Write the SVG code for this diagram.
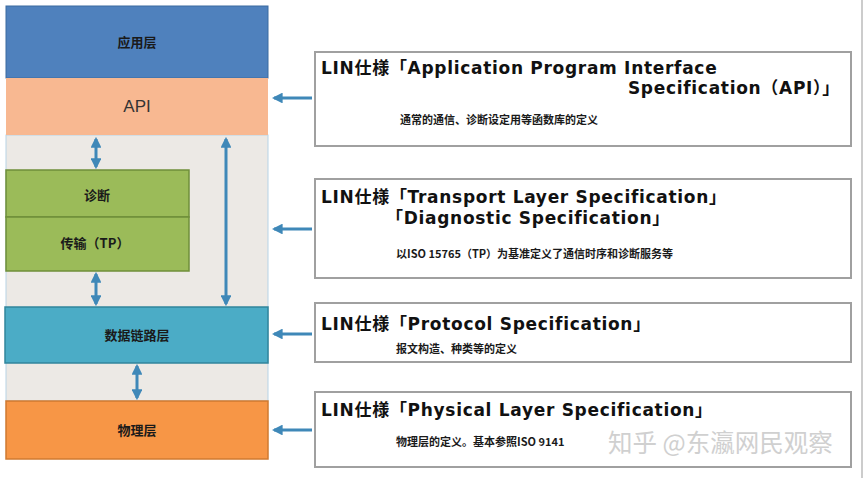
<svg xmlns="http://www.w3.org/2000/svg" width="866" height="478" viewBox="0 0 866 478">
<defs>
<style>
.cn{font-family:"Noto Sans CJK SC","Liberation Sans",sans-serif;font-weight:bold;fill:#1a1a1a}
.t{font-family:"DejaVu Sans","Noto Sans CJK SC",sans-serif;font-weight:bold;fill:#111;letter-spacing:0.7px}
.box{fill:#fff;stroke:#a0a0a0;stroke-width:2}
.c{stroke:#3f88b8;stroke-width:3;fill:none}
</style>
<marker id="ah" viewBox="0 0 10 10" refX="8" refY="5" markerWidth="3.6" markerHeight="3.6" orient="auto-start-reverse"><path d="M0,0 L10,5 L0,10 z" fill="#3f88b8"/></marker>
</defs>
<rect width="866" height="478" fill="#fff"/>
<line x1="862" y1="0" x2="862" y2="478" stroke="#bbb" stroke-width="1.5"/>
<g id="bg"><rect x="6" y="135" width="262" height="266" fill="#ece9e5" stroke="#b7d3e6" stroke-width="1"/></g>
<g id="app"><rect x="6" y="6" width="262" height="72" fill="#4f81bd" stroke="#3b6aa0"/><text x="137" y="47" class="cn" font-size="13" text-anchor="middle">应用层</text></g>
<g id="api"><rect x="6" y="78" width="262" height="57" fill="#f8b891"/><text x="137" y="112" font-family="Liberation Sans,sans-serif" font-size="17" text-anchor="middle" fill="#333">API</text></g>
<g id="diag"><rect x="6" y="170" width="183" height="47" fill="#9bbb59" stroke="#6f8f3a" stroke-width="1.5"/><text x="97" y="200" class="cn" font-size="13" text-anchor="middle">诊断</text></g>
<g id="tp"><rect x="6" y="217" width="183" height="54" fill="#9bbb59" stroke="#6f8f3a" stroke-width="1.5"/><text x="95" y="248" class="cn" font-size="13" text-anchor="middle">传输（TP）</text></g>
<g id="dll"><rect x="5" y="307" width="263" height="56" fill="#4bacc6" stroke="#31859c" stroke-width="1.5"/><text x="137" y="340" class="cn" font-size="13" text-anchor="middle">数据链路层</text></g>
<g id="phy"><rect x="6" y="401" width="262" height="58" fill="#f79646" stroke="#d07a30" stroke-width="1.5"/><text x="137" y="435" class="cn" font-size="13" text-anchor="middle">物理层</text></g>
<g id="connectors">
<line class="c" x1="96" y1="139" x2="96" y2="167" marker-start="url(#ah)" marker-end="url(#ah)"/>
<line class="c" x1="96" y1="274" x2="96" y2="304" marker-start="url(#ah)" marker-end="url(#ah)"/>
<line class="c" x1="226" y1="139" x2="226" y2="304" marker-start="url(#ah)" marker-end="url(#ah)"/>
<line class="c" x1="137" y1="366" x2="137" y2="398" marker-start="url(#ah)" marker-end="url(#ah)"/>
<line class="c" x1="312" y1="98" x2="274" y2="98" marker-end="url(#ah)"/>
<line class="c" x1="312" y1="229" x2="274" y2="229" marker-end="url(#ah)"/>
<line class="c" x1="312" y1="334" x2="274" y2="334" marker-end="url(#ah)"/>
<line class="c" x1="312" y1="430" x2="274" y2="430" marker-end="url(#ah)"/>
</g>
<g id="spec1"><rect class="box" x="315" y="52" width="536" height="94"/>
<text x="321" y="74" class="t" font-size="17">LIN仕様「Application Program Interface</text>
<text x="840" y="94" class="t" font-size="17" text-anchor="end">Specification（API）」</text>
<text x="400" y="124" class="cn" font-size="11">通常的通信、诊断设定用等函数库的定义</text></g>
<g id="spec2"><rect class="box" x="315" y="179" width="536" height="99"/>
<text x="321" y="203" class="t" font-size="17">LIN仕様「Transport Layer Specification」</text>
<text x="386" y="224" class="t" font-size="17">「Diagnostic Specification」</text>
<text x="396" y="258" class="cn" font-size="11">以ISO 15765（TP）为基准定义了通信时序和诊断服务等</text></g>
<g id="spec3"><rect class="box" x="315" y="303" width="536" height="59"/>
<text x="321" y="330" class="t" font-size="17">LIN仕様「Protocol Specification」</text>
<text x="396" y="353" class="cn" font-size="11">报文构造、种类等的定义</text></g>
<g id="spec4"><rect class="box" x="315" y="392" width="536" height="75"/>
<text x="321" y="416" class="t" font-size="17">LIN仕様「Physical Layer Specification」</text>
<text x="396" y="446" class="cn" font-size="11">物理层的定义。基本参照ISO 9141</text>
<text x="608" y="452" font-family="Noto Sans CJK SC,sans-serif" font-size="24.5" fill="#d0d0d0">知乎 @东瀛网民观察</text></g>
</svg>
